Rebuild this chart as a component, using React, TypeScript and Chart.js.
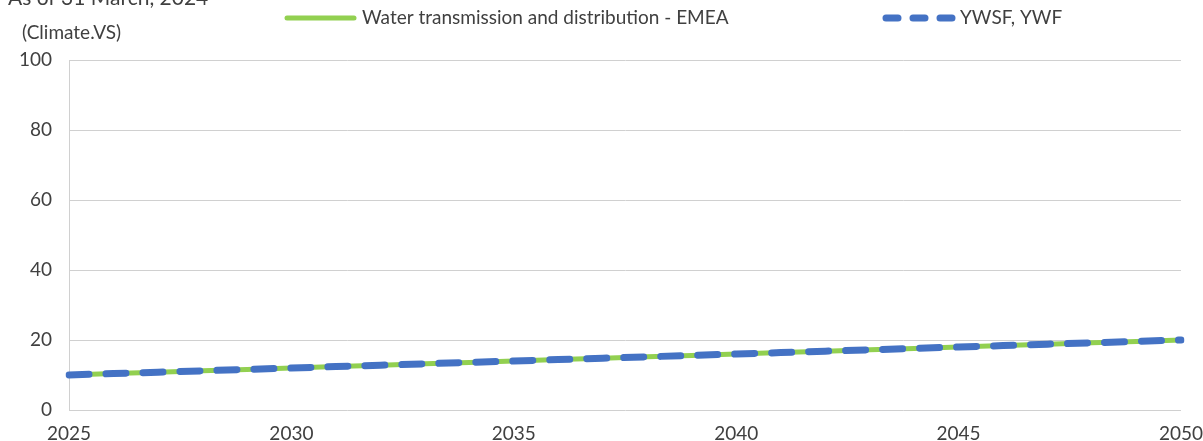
import React, { useEffect, useRef } from "react";
import { Chart, registerables } from "chart.js";

Chart.register(...registerables);

const years = ["2025","2026","2027","2028","2029","2030","2031","2032","2033","2034","2035","2036","2037","2038","2039","2040","2041","2042","2043","2044","2045","2046","2047","2048","2049","2050"];
const emeaValues = [10, 10.4, 10.8, 11.2, 11.6, 12, 12.4, 12.8, 13.2, 13.6, 14, 14.4, 14.8, 15.2, 15.6, 16, 16.4, 16.8, 17.2, 17.6, 18, 18.4, 18.8, 19.2, 19.6, 20];
const ywsfValues = [10, 10.4, 10.8, 11.2, 11.6, 12, 12.4, 12.8, 13.2, 13.6, 14, 14.4, 14.8, 15.2, 15.6, 16, 16.4, 16.8, 17.2, 17.6, 18, 18.4, 18.8, 19.2, 19.6, 20];
const seriesNames = ["Water transmission and distribution - EMEA", "YWSF, YWF"];
const titleText = "As of 31 March, 2024";
const unitText = "(Climate.VS)";

const GREEN = "#92d050";
const BLUE = "#4472c4";
const TEXT = "#404040";
const FONT = "Lato";

const overlayPlugin = {
  id: "overlay",
  afterDraw(chart: any) {
    const ctx = chart.ctx;
    ctx.save();
    ctx.fillStyle = TEXT;
    ctx.textBaseline = "alphabetic";
    ctx.textAlign = "left";
    ctx.font = `21px ${FONT}`;
    ctx.fillText(titleText, 8, 5);
    ctx.textBaseline = "middle";
    ctx.font = `19px ${FONT}`;
    ctx.fillText(unitText, 22, 33);

    // legend item 1
    ctx.lineCap = "round";
    ctx.strokeStyle = GREEN;
    ctx.lineWidth = 5;
    ctx.beginPath();
    ctx.moveTo(287, 18);
    ctx.lineTo(354, 18);
    ctx.stroke();
    ctx.fillText(seriesNames[0], 362, 18);

    // legend item 2
    ctx.strokeStyle = BLUE;
    ctx.lineWidth = 7;
    ctx.setLineDash([12, 15]);
    ctx.beginPath();
    ctx.moveTo(886, 18);
    ctx.lineTo(956, 18);
    ctx.stroke();
    ctx.setLineDash([]);
    ctx.fillText(seriesNames[1], 960, 18);
    ctx.restore();
  },
};

export default function App() {
  const ref = useRef<HTMLCanvasElement>(null);
  useEffect(() => {
    if (!ref.current) return;
    const chart = new Chart(ref.current, {
      type: "line",
      data: {
        labels: years,
        datasets: [
          {
            label: seriesNames[1],
            data: ywsfValues,
            borderColor: BLUE,
            borderWidth: 7,
            borderDash: [20, 17],
            borderCapStyle: "round",
            pointRadius: 0,
            fill: false,
            order: 0,
          },
          {
            label: seriesNames[0],
            data: emeaValues,
            borderColor: GREEN,
            borderWidth: 5,
            pointRadius: 0,
            fill: false,
            order: 1,
          },
        ],
      },
      options: {
        animation: false,
        responsive: false,
        layout: { padding: { top: 60, right: 22, left: 0, bottom: 0 } },
        plugins: { legend: { display: false }, tooltip: { enabled: false } },
        scales: {
          x: {
            grid: { display: false, drawTicks: false },
            border: { display: false },
            afterFit: (s: any) => { s.height = 31; s.paddingLeft = 0; s.paddingRight = 0; },
            ticks: {
              autoSkip: false,
              maxRotation: 0,
              padding: 12,
              color: TEXT,
              font: { family: FONT, size: 19 },
              callback: (v: any, i: number) => (Number(years[i]) % 5 === 0 ? years[i] : ""),
            },
          },
          y: {
            min: 0,
            max: 100,
            afterFit: (s: any) => { s.width = 69; s.paddingTop = 0; s.paddingBottom = 0; },
            grid: { color: "#d0d0d0", lineWidth: 1, drawTicks: false },
            border: { display: true, color: "#d0d0d0", width: 1 },
            ticks: {
              stepSize: 20,
              padding: 17,
              color: TEXT,
              font: { family: FONT, size: 19 },
            },
          },
        },
      },
      plugins: [overlayPlugin],
    });
    return () => chart.destroy();
  }, []);
  return (
    <div style={{ position: "absolute", left: 0, top: 0, width: 1203, height: 441, background: "#fff" }}>
      <canvas ref={ref} width={1203} height={441} style={{ display: "block" }} />
    </div>
  );
}
